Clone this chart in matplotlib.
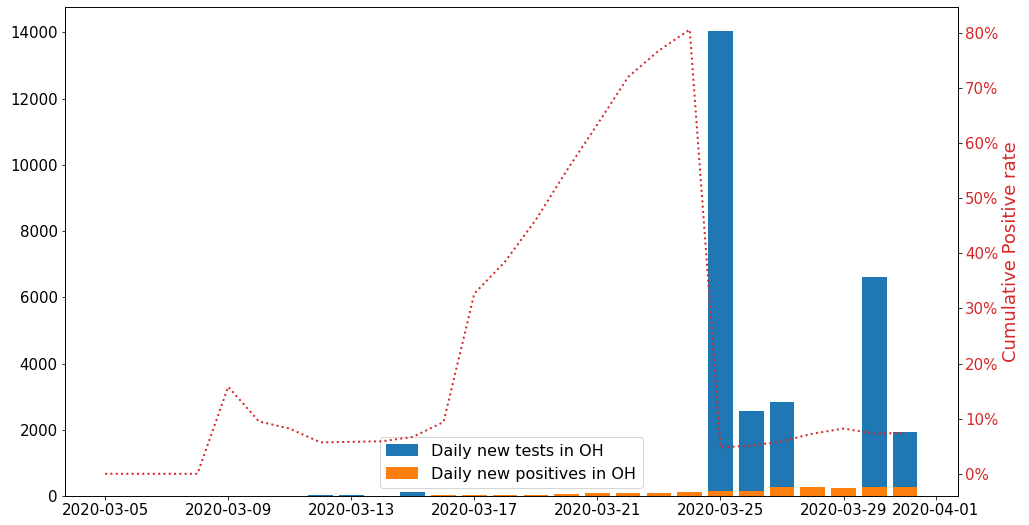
import numpy as np
import pandas as pd
import matplotlib
matplotlib.use("Agg")
import matplotlib.pyplot as plt
from matplotlib.ticker import PercentFormatter

# cumulative positive rate, 2020-03-05 .. 2020-03-31
rate_dates = pd.date_range("2020-03-05", "2020-03-31")
pos_rate = [0.0, 0.0, 0.0, 0.0, 0.158, 0.095, 0.082, 0.057, 0.058, 0.059,
            0.067, 0.094, 0.327, 0.385, 0.461, 0.550, 0.634, 0.720, 0.768,
            0.806, 0.048, 0.051, 0.059, 0.073, 0.082, 0.073, 0.074]

# daily bars, 2020-03-12 .. 2020-03-31
bar_dates = pd.date_range("2020-03-12", "2020-03-31")
new_tests = [40, 40, 0, 120, 0, 0, 0, 0, 0, 0, 0, 0, 0,
             14050, 2565, 2835, 0, 0, 6610, 1930]
new_pos = [2, 8, 0, 11, 30, 35, 25, 30, 55, 80, 105, 90, 120,
           140, 165, 270, 270, 245, 280, 265]

plt.rcParams["font.size"] = 15

fig, ax = plt.subplots(figsize=(1029 / 72, 525 / 72), dpi=72)
fig.subplots_adjust(left=0.0627, right=0.931, bottom=0.0552, top=0.986)

ax.bar(bar_dates, new_tests, label="Daily new tests in OH")
ax.bar(bar_dates, new_pos, label="Daily new positives in OH")
ax.legend(loc="lower center", fontsize=16)

ax2 = ax.twinx()
ax2.plot(rate_dates, pos_rate, color="tab:red", linestyle=":", linewidth=2)
ax2.set_ylabel("Cumulative Positive rate", color="tab:red", fontsize=18)
ax2.tick_params(axis="y", labelcolor="tab:red")
ax2.yaxis.set_major_formatter(PercentFormatter(1.0, decimals=0))

fig.savefig("out.png", dpi=72)
